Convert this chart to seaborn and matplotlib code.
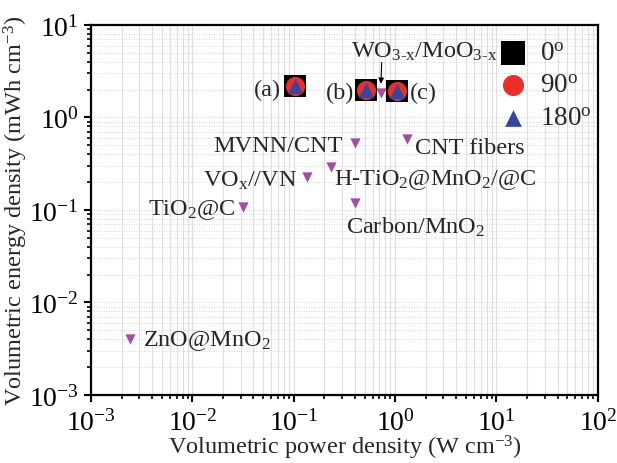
"""Ragone-style plot: volumetric energy vs power density of the device."""

import matplotlib

matplotlib.use("Agg")

import matplotlib.pyplot as plt
import pandas as pd
import seaborn as sns


OUTPUT_PATH = "out.png"
PX = 0.72  # one pixel in points at dpi=100

# this work, three bending angles, samples (a), (b), (c)
SAMPLE_LABELS = ["(a)", "(b)", "(c)"]
SAMPLE_POWER = [0.104, 0.516, 1.04]
ENERGY_0 = [2.19, 1.98, 1.93]
ENERGY_90 = [2.19, 1.98, 1.93]
ENERGY_180 = [2.19, 1.98, 1.93]
ANGLE_LABELS = ["0$^{\\mathrm{o}}$", "90$^{\\mathrm{o}}$", "180$^{\\mathrm{o}}$"]

# literature devices
REF_NAMES = [
    "WO$_{3\\text{-}x}$/MoO$_{3\\text{-}x}$",
    "MVNN/CNT",
    "CNT fibers",
    "H-TiO$_2$@MnO$_2$/@C",
    "VO$_x$//VN",
    "TiO$_2$@C",
    "Carbon/MnO$_2$",
    "ZnO@MnO$_2$",
]
REF_POWER = [0.72, 0.398, 1.32, 0.231, 0.134, 0.0319, 0.398, 0.0024]
REF_ENERGY = [1.82, 0.526, 0.58, 0.294, 0.229, 0.109, 0.118, 0.0040]

X_LIMITS = (1e-3, 1e2)
Y_LIMITS = (1e-3, 1e1)

# label offsets in pixels (dx, dy), horizontal alignment
SAMPLE_TEXT = [(-14, -9, "right"), (-12, -8, "right"), (13, -7, "left")]
REF_TEXT = [
    (-30, 37, "left"),
    (-12, -8, "right"),
    (8, -14, "left"),
    (3, -17, "left"),
    (-9, -9, "right"),
    (-8, -8, "right"),
    (-9, -29, "left"),
    (13, -6, "left"),
]

PURPLE = "#a64ca6"
RED = "#ec2d2a"
BLUE = "#3548a0"


def setup_style():
    sns.set_theme(style="ticks")
    plt.rcParams["font.family"] = ["Liberation Serif", "DejaVu Serif"]
    plt.rcParams["mathtext.fontset"] = "custom"
    plt.rcParams["mathtext.rm"] = "Liberation Serif"
    plt.rcParams["mathtext.it"] = "Liberation Serif:italic"
    plt.rcParams["mathtext.bf"] = "Liberation Serif:bold"
    plt.rcParams["mathtext.default"] = "regular"


def draw_samples(ax):
    angle_series = [
        (ENERGY_0, "s", "black", 250, ANGLE_LABELS[0]),
        (ENERGY_90, "o", RED, 190, ANGLE_LABELS[1]),
        (ENERGY_180, "^", BLUE, 120, ANGLE_LABELS[2]),
    ]
    for energy, marker, color, size, label in angle_series:
        frame = pd.DataFrame({"power": SAMPLE_POWER, "energy": energy})
        sns.scatterplot(
            data=frame,
            x="power",
            y="energy",
            marker=marker,
            color=color,
            s=size,
            linewidth=0,
            label=label,
            ax=ax,
            zorder=4,
        )

    for text, x, y, (dx, dy, ha) in zip(
        SAMPLE_LABELS, SAMPLE_POWER, ENERGY_0, SAMPLE_TEXT
    ):
        ax.annotate(
            text,
            (x, y),
            xytext=(dx * PX, dy * PX),
            textcoords="offset points",
            ha=ha,
            va="baseline",
            fontsize=17.5,
        )


def draw_references(ax):
    frame = pd.DataFrame({"power": REF_POWER, "energy": REF_ENERGY})
    sns.scatterplot(
        data=frame,
        x="power",
        y="energy",
        marker="v",
        color=PURPLE,
        s=55,
        linewidth=0,
        ax=ax,
        zorder=3,
    )

    for name, x, y, (dx, dy, ha) in zip(REF_NAMES, REF_POWER, REF_ENERGY, REF_TEXT):
        ax.annotate(
            name,
            (x, y),
            xytext=(dx * PX, dy * PX),
            textcoords="offset points",
            ha=ha,
            va="baseline",
            fontsize=17.5,
        )

    # small arrow from the WO3-x/MoO3-x label to its point
    ax.annotate(
        "",
        (REF_POWER[0], REF_ENERGY[0]),
        xytext=(1 * PX, 31 * PX),
        textcoords="offset points",
        xycoords="data",
        arrowprops=dict(arrowstyle="-|>", color="black", lw=0.8, mutation_scale=8,
                        shrinkA=0, shrinkB=7),
    )


def style_axes(ax):
    ax.set_xscale("log")
    ax.set_yscale("log")
    ax.set_xlim(*X_LIMITS)
    ax.set_ylim(*Y_LIMITS)

    ax.grid(True, which="both", axis="x", color="#e3dde1", lw=0.8, ls="-")
    ax.grid(True, which="both", axis="y", color="#c9c9c9", lw=0.6, ls=(0, (1, 2)))
    ax.set_axisbelow(True)

    for spine in ax.spines.values():
        spine.set_linewidth(1.6)
        spine.set_color("black")

    ax.tick_params(which="major", direction="out", length=5, width=1.5,
                   labelsize=20, pad=5, colors="black")
    ax.tick_params(which="minor", direction="out", length=3, width=1.2,
                   colors="black")
    ax.tick_params(axis="y", which="major", pad=4)

    ax.set_xlabel("Volumetric power density (W cm$^{-3}$)", fontsize=17.5)
    ax.set_ylabel("Volumetric energy density (mWh cm$^{-3}$)", fontsize=17.5)
    ax.xaxis.set_label_coords(0.5, -0.103)
    ax.yaxis.set_label_coords(-0.12, 0.5)

    ax.legend(
        loc="upper left",
        bbox_to_anchor=(0.795, 0.957),
        frameon=False,
        fontsize=19.5,
        handlelength=1.4,
        handletextpad=0.3,
        labelspacing=0.28,
        borderpad=0,
        borderaxespad=0,
        markerscale=1.1,
    )


def main():
    setup_style()
    fig = plt.figure(figsize=(6.17, 4.64), dpi=100)
    ax = fig.add_axes([0.1475, 0.1466, 0.8215, 0.7974])

    draw_references(ax)
    draw_samples(ax)
    style_axes(ax)

    fig.savefig(OUTPUT_PATH, dpi=100)
    plt.close(fig)


if __name__ == "__main__":
    main()
